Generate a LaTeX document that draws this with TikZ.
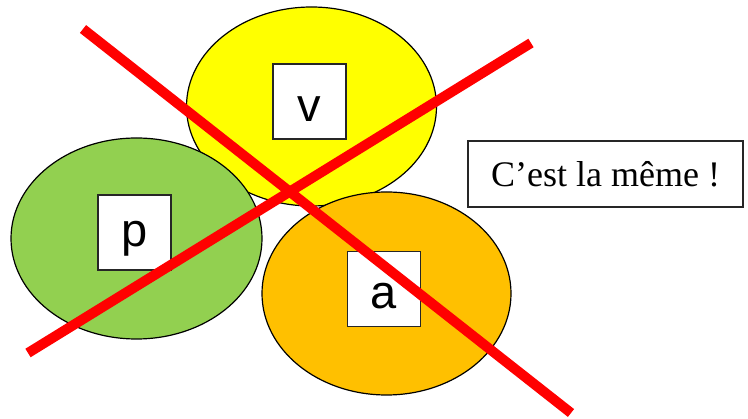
\documentclass[tikz,border=0pt]{standalone}
\usepackage{fontspec}
\setmainfont{Liberation Serif}
\newfontfamily\arialf{Liberation Sans}
\usetikzlibrary{shapes.geometric}
\definecolor{cyellow}{HTML}{FFFF00}
\definecolor{cgreen}{HTML}{92D050}
\definecolor{corange}{HTML}{FFC000}
\definecolor{cred}{HTML}{FF0000}
\tikzset{
  blob/.style={ellipse, draw=black, line width=1.2pt, inner sep=0pt},
  letterbox/.style={rectangle, draw=black!85, line width=1.6pt, fill=white, minimum width=73pt, minimum height=75pt, inner sep=0pt},
  letter/.style={font=\arialf\fontsize{47}{50}\selectfont, text=black, inner sep=0pt},
  notebox/.style={rectangle, draw=black!85, line width=1.6pt, fill=white, minimum width=275pt, minimum height=66pt, inner sep=0pt, font=\fontsize{36}{40}\selectfont},
  cross/.style={draw=cred, line width=10pt}
}
\begin{document}
\begin{tikzpicture}[x=1pt,y=-1pt]
  \useasboundingbox (0,0) rectangle (748,419);
  \node[blob, fill=cyellow, minimum width=250pt, minimum height=199pt] (ey) at (311.5,106.5) {};
  \node[blob, fill=cgreen, minimum width=251pt, minimum height=201pt] (eg) at (136.5,238.5) {};
  \node[blob, fill=corange, minimum width=249pt, minimum height=203pt] (eo) at (386.5,293.5) {};
  \node[letterbox] (bv) at (309.5,101.5) {};
  \node[letterbox] (bp) at (134.5,232.5) {};
  \node[letterbox] (ba) at (384,289) {};
  \node[letter] (tv) at ([yshift=-8pt]bv.center) {v};
  \node[letter] (tp) at ([yshift=-6pt]bp.center) {p};
  \node[letter] (ta) at ([yshift=-7pt]ba.center) {a};
  \node[notebox] (note) at (605.5,174) {C’est la même !};
  \coordinate (l1a) at (83,29);
  \coordinate (l1b) at (571,413);
  \coordinate (l2a) at (28,353);
  \coordinate (l2b) at (531,43);
  \draw[cross] (l1a) -- (l1b);
  \draw[cross] (l2a) -- (l2b);
\end{tikzpicture}
\end{document}
